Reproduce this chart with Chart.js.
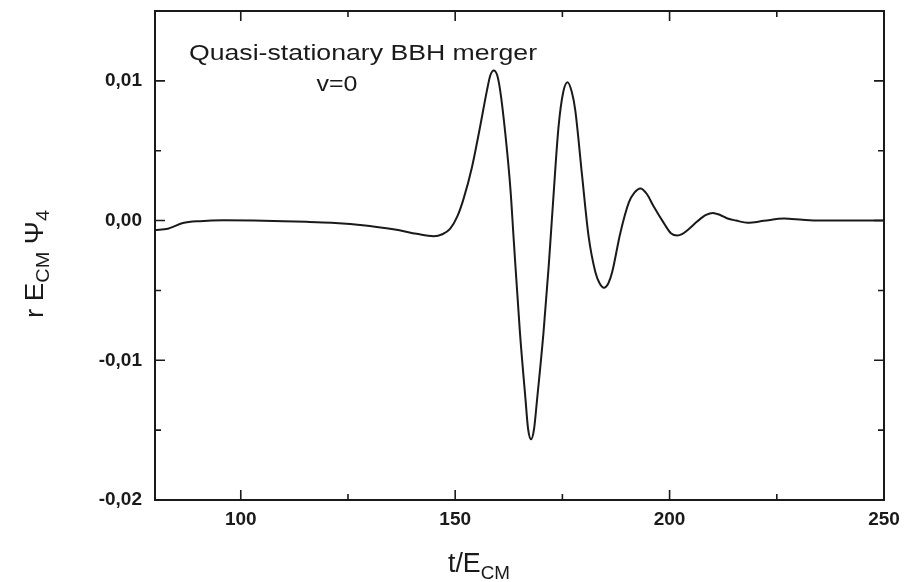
<!DOCTYPE html>
<html><head><meta charset="utf-8">
<script src="https://cdn.jsdelivr.net/npm/chart.js@4.4.1/dist/chart.umd.min.js"></script>
<style>html,body{margin:0;padding:0;background:#fff}canvas{display:block}</style>
</head><body>
<canvas id="c" width="905" height="582"></canvas>
<script>
// ---- data ----
const tValues = [80, 83, 86.5, 90.5, 96, 103, 110, 116, 122, 129, 134, 137, 141, 145, 147, 148.8, 150.5, 151.9, 153.9, 155.8, 157.4, 158.2, 159.0, 159.8, 160.5, 161.7, 162.9, 163.7, 165.1, 166.4, 167.0, 167.7, 168.4, 169.1, 170.6, 171.8, 172.8, 174.1, 175.2, 176.2, 177.2, 178.0, 179.6, 181.1, 182.7, 183.7, 184.7, 185.7, 186.6, 188.5, 190.5, 191.8, 193.2, 194.7, 196.3, 198.7, 200.3, 201.8, 203, 204.5, 206.5, 208.5, 210.1, 211.8, 213.5, 215.5, 218.2, 222, 226.7, 231, 235, 240, 250];
const psiValues = [-0.00068, -0.00058, -0.00018, -0.00004, 0.00002, 0.0, -0.00004, -0.0001, -0.00017, -0.00035, -0.00055, -0.0007, -0.00095, -0.00112, -0.00098, -0.0006, 0.0003, 0.0015, 0.0038, 0.0067, 0.0093, 0.0104, 0.01075, 0.0104, 0.0093, 0.0062, 0.0022, -0.0016, -0.008, -0.0128, -0.0149, -0.01565, -0.0149, -0.0128, -0.008, -0.0033, 0.0012, 0.0067, 0.0092, 0.0099, 0.0092, 0.0079, 0.0032, -0.0011, -0.0037, -0.0045, -0.0048, -0.0045, -0.0037, -0.0009, 0.0013, 0.002, 0.0023, 0.0019, 0.001, -0.0002, -0.0009, -0.00107, -0.00095, -0.0006, -0.00005, 0.0004, 0.00055, 0.0004, 0.00015, 0.0, -0.00016, -0.00002, 0.00014, 0.00005, 0.0, 0.0, 0.0];
const xTickValues = [100, 150, 200, 250];
const xMinorTicks = [125, 175, 225];
const yTickValues = [-0.02, -0.01, 0, 0.01];
const yMinorTicks = [-0.015, -0.005, 0.005];
const annotationLines = ['Quasi-stationary BBH merger', 'v=0'];

const INK = '#1a1a1a';
const FONT = '"Liberation Sans", Arial, sans-serif';

function fmtY(v) {
  if (Math.abs(v) < 1e-9) return '0,00';
  return v.toFixed(2).replace('.', ',');
}

function drawRich(ctx, segs, cx, cy, angle, targetLen) {
  ctx.save();
  ctx.translate(cx, cy);
  ctx.rotate(angle);
  let w = 0;
  segs.forEach(s => { ctx.font = s.font; s.w = ctx.measureText(s.text).width; w += s.w; });
  const k = targetLen ? targetLen / w : 1;
  ctx.scale(k, 1);
  ctx.textAlign = 'left';
  ctx.textBaseline = 'alphabetic';
  ctx.fillStyle = INK;
  let x = -w / 2;
  segs.forEach(s => { ctx.font = s.font; ctx.fillText(s.text, x, s.dy || 0); x += s.w; });
  ctx.restore();
}

function zeroPad(s) { s.paddingTop = 0; s.paddingBottom = 0; s.paddingLeft = 0; s.paddingRight = 0; }

const framePlugin = {
  id: 'frame',
  afterDraw(chart) {
    const ctx = chart.ctx;
    const a = chart.chartArea;
    const xs = chart.scales.x, ys = chart.scales.y;
    ctx.save();
    ctx.strokeStyle = INK;
    ctx.lineWidth = 2;
    ctx.strokeRect(a.left, a.top, a.right - a.left, a.bottom - a.top);
    ctx.lineWidth = 1.6;
    ctx.beginPath();
    const MAJ = 10, MIN = 6;
    const xt = (v, len) => {
      const p = xs.getPixelForValue(v);
      ctx.moveTo(p, a.bottom); ctx.lineTo(p, a.bottom - len);
      ctx.moveTo(p, a.top); ctx.lineTo(p, a.top + len);
    };
    const yt = (v, len) => {
      const p = ys.getPixelForValue(v);
      ctx.moveTo(a.left, p); ctx.lineTo(a.left + len, p);
      ctx.moveTo(a.right, p); ctx.lineTo(a.right - len, p);
    };
    xTickValues.forEach(v => xt(v, MAJ));
    xMinorTicks.forEach(v => xt(v, MIN));
    yTickValues.forEach(v => yt(v, MAJ));
    yMinorTicks.forEach(v => yt(v, MIN));
    ctx.stroke();
    ctx.restore();

    // annotation
    drawRich(ctx, [{text: annotationLines[0], font: '22px ' + FONT}], 363, 60, 0, 348);
    drawRich(ctx, [{text: annotationLines[1], font: '22px ' + FONT}], 337, 91, 0, 41);

    // x axis title
    drawRich(ctx, [
      {text: 't/E', font: '27px ' + FONT},
      {text: 'CM', font: '19px ' + FONT, dy: 7}
    ], 479, 572, 0, 62);

    // y axis title (rotated)
    drawRich(ctx, [
      {text: 'r E', font: '25px ' + FONT},
      {text: 'CM', font: '18px ' + FONT, dy: 6},
      {text: ' \u03A8', font: '25px ' + FONT},
      {text: '4', font: '18px ' + FONT, dy: 6}
    ], 43, 264, -Math.PI / 2, 108);
  }
};

new Chart(document.getElementById('c'), {
  type: 'line',
  data: {
    datasets: [{
      data: tValues.map((t, i) => ({x: t, y: psiValues[i]})),
      borderColor: INK,
      borderWidth: 2,
      pointRadius: 0,
      fill: false,
      cubicInterpolationMode: 'monotone'
    }]
  },
  options: {
    responsive: false,
    animation: false,
    devicePixelRatio: 1,
    layout: {padding: {top: 11, right: 21, left: 0, bottom: 0}},
    plugins: {legend: {display: false}, tooltip: {enabled: false}},
    scales: {
      x: {
        type: 'linear', min: 80, max: 250,
        afterBuildTicks: s => { s.ticks = xTickValues.map(v => ({value: v})); },
        afterFit: s => { s.height = 82; zeroPad(s); },
        grid: {display: false, drawTicks: false},
        border: {display: false},
        ticks: {padding: 8, color: INK, autoSkip: false, maxRotation: 0,
          font: {family: FONT, size: 19, weight: 'bold'},
          callback: v => String(v)}
      },
      y: {
        type: 'linear', min: -0.02, max: 0.015,
        afterBuildTicks: s => { s.ticks = yTickValues.map(v => ({value: v})); },
        afterFit: s => { s.width = 155; zeroPad(s); },
        grid: {display: false, drawTicks: false},
        border: {display: false},
        ticks: {padding: 13, color: INK, autoSkip: false,
          font: {family: FONT, size: 19, weight: 'bold'},
          callback: v => fmtY(v)}
      }
    }
  },
  plugins: [framePlugin]
});
</script>
</body></html>
